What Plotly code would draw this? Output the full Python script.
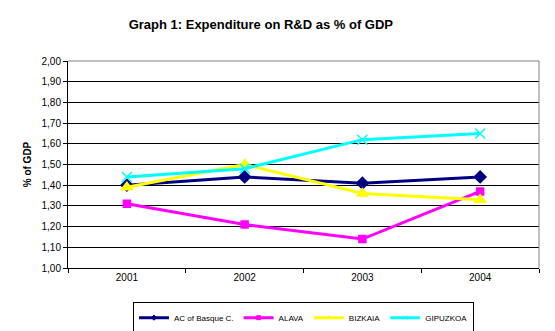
import plotly.graph_objects as go

years = ["2001", "2002", "2003", "2004"]
ac_basque = [1.40, 1.44, 1.41, 1.44]
alava = [1.31, 1.21, 1.14, 1.37]
bizkaia = [1.39, 1.50, 1.36, 1.33]
gipuzkoa = [1.44, 1.48, 1.62, 1.65]

series = [
    ("AC of Basque C.", ac_basque, "#000080", "diamond", 9),
    ("ALAVA", alava, "#FF00FF", "square", 7),
    ("BIZKAIA", bizkaia, "#FFFF00", "triangle-up", 10),
    ("GIPUZKOA", gipuzkoa, "#00FFFF", "x-thin-open", 10),
]

fig = go.Figure()
for name, vals, color, sym, size in series:
    fig.add_trace(go.Scatter(
        x=years, y=vals, name=name, mode="lines+markers", showlegend=False,
        line=dict(color=color, width=3),
        marker=dict(symbol=sym, size=size, color=color,
                    line=dict(color=color, width=1.5)),
    ))
# legend keys with small markers
for name, vals, color, sym, size in series:
    fig.add_trace(go.Scatter(
        x=[None], y=[None], name=name, mode="lines+markers",
        line=dict(color=color, width=3),
        marker=dict(symbol=sym, size=4, color=color,
                    line=dict(color=color, width=1)),
    ))

fig.update_layout(
    width=555, height=331,
    margin=dict(l=68, r=16, t=61, b=63, autoexpand=False),
    paper_bgcolor="white", plot_bgcolor="white",
    separators=", ",
    font=dict(family="Arial, Liberation Sans, sans-serif", size=10, color="black"),
    title=dict(text="<b>Graph 1: Expenditure on R&D as % of GDP</b>",
               x=0.47, xanchor="center", y=0.925, yanchor="middle",
               font=dict(size=13, color="black")),
    showlegend=True,
    legend=dict(orientation="h", x=0.5, xanchor="center", y=-0.165, yanchor="top",
                bordercolor="black", borderwidth=1, bgcolor="white",
                font=dict(size=8), itemwidth=30, tracegroupgap=0),
    xaxis=dict(type="category", range=[-0.5, 3.5], tickson="boundaries",
               ticks="outside", ticklen=4, tickcolor="black",
               showline=True, linecolor="black", linewidth=1,
               mirror=False, showgrid=False, tickfont=dict(size=10)),
    yaxis=dict(range=[1.0, 2.0], dtick=0.1, tickformat=".2f",
               ticks="outside", ticklen=4, tickcolor="black",
               showline=True, linecolor="black", linewidth=1,
               showgrid=True, gridcolor="black", gridwidth=1,
               zeroline=False, tickfont=dict(size=10),
               title=dict(text="<b>% of GDP</b>", font=dict(size=10), standoff=8)),
)

# grey frame on the top and right of the plot area
fig.add_shape(type="line", xref="paper", yref="paper", x0=0, x1=1, y0=1, y1=1,
              line=dict(color="#808080", width=1))
fig.add_shape(type="line", xref="paper", yref="paper", x0=1, x1=1, y0=0, y1=1,
              line=dict(color="#808080", width=1))

fig.write_html("out.html")
